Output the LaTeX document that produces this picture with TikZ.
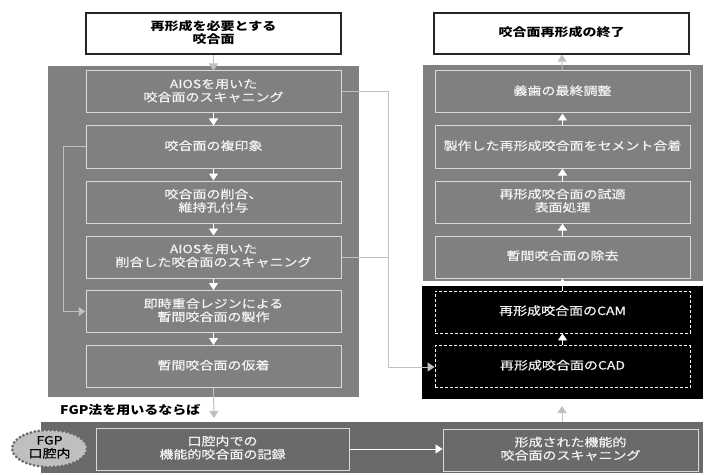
\documentclass[tikz,border=0pt]{standalone}
\usepackage{fontspec}
\setmainfont{Noto Sans CJK JP}
\newfontfamily\medfont[FakeBold=0.6]{Noto Sans CJK JP}
\usetikzlibrary{arrows.meta,shapes.geometric}
\definecolor{panelgray}{HTML}{808080}
\definecolor{bottomgray}{HTML}{6A6A6A}
\definecolor{boxline}{HTML}{D9D9D9}
\definecolor{conn}{HTML}{C0C0C0}
\definecolor{txtw}{HTML}{F2F2F2}
\newcommand{\sq}[1]{\scalebox{1}[0.82]{\begin{tabular}{@{}c@{}}#1\end{tabular}}}
\tikzset{
  stepbox/.style={draw=boxline, line width=1pt, minimum width=255pt, minimum height=42pt, inner sep=0pt, text=txtw, font=\medfont\fontsize{14}{14.5}\selectfont},
  dashbox/.style={draw=white, line width=0.8pt, dash pattern=on 3pt off 2pt, minimum width=255pt, minimum height=42pt, inner sep=0pt, text=txtw, font=\medfont\fontsize{14}{14.5}\selectfont},
  topbox/.style={draw=black!85, line width=1.2pt, fill=white, minimum width=255pt, minimum height=41pt, inner sep=0pt, font=\bfseries\fontsize{14}{14}\selectfont},
  warrow/.style={draw=white, line width=0.8pt, -{Triangle[width=9pt,length=7pt]}},
  garrow/.style={draw=conn, line width=1pt, -{Triangle[width=9pt,length=7pt]}},
  gline/.style={draw=conn, line width=1pt},
}
\begin{document}
\begin{tikzpicture}[x=1pt,y=-1pt]
\useasboundingbox (0,0) rectangle (703,473);
% panels
\fill[panelgray] (48,66) rectangle (359,397);
\fill[panelgray] (423,65) rectangle (703,281);
\fill[black] (422,286) rectangle (703,399);
\fill[bottomgray] (41,422) rectangle (703,473);

% top boxes
\node[topbox] (start) at (213.5,33.5) {\sq{再形成を必要とする\\咬合面}};
\node[topbox] (end) at (561.5,33.5) {\sq{咬合面再形成の終了}};

% left column
\node[stepbox] (l1) at (213.5,92) {\sq{AIOSを用いた\\咬合面のスキャニング}};
\node[stepbox] (l2) at (213.5,147) {\sq{咬合面の複印象}};
\node[stepbox] (l3) at (213.5,202) {\sq{咬合面の削合、\\維持孔付与}};
\node[stepbox] (l4) at (213.5,257) {\sq{AIOSを用いた\\削合した咬合面のスキャニング}};
\node[stepbox] (l5) at (213.5,311.5) {\sq{即時重合レジンによる\\暫間咬合面の製作}};
\node[stepbox] (l6) at (213.5,366.5) {\sq{暫間咬合面の仮着}};

% right column
\node[stepbox] (r1) at (562.5,92) {\sq{義歯の最終調整}};
\node[stepbox] (r2) at (562.5,147) {\sq{製作した再形成咬合面をセメント合着}};
\node[stepbox] (r3) at (562.5,202) {\sq{再形成咬合面の試適\\表面処理}};
\node[stepbox] (r4) at (562.5,257) {\sq{暫間咬合面の除去}};
\node[dashbox] (cam) at (562.5,312) {\sq{再形成咬合面のCAM}};
\node[dashbox] (cad) at (562.5,366.5) {\sq{再形成咬合面のCAD}};

% bottom row
\node[stepbox, minimum width=253pt] (rec) at (222.5,449) {\sq{口腔内での\\機能的咬合面の記録}};
\node[stepbox] (scan) at (570.5,450) {\sq{形成された機能的\\咬合面のスキャニング}};
\node[ellipse, fill=black!25, draw=black!60, line width=3pt, dash pattern=on 0pt off 4pt, line cap=round, minimum width=75pt, minimum height=37pt, inner sep=0pt, font=\medfont\fontsize{14}{14}\selectfont] (fgp) at (49.5,448.5) {\sq{FGP\\口腔内}};

\node[anchor=west, font=\bfseries\fontsize{14}{15}\selectfont, inner sep=0pt] (cond) at (60,410) {\scalebox{1}[0.85]{FGP法を用いるならば}};

% coordinates
\coordinate (fgptip) at (214,418);
\coordinate (scantop) at (562,422);
\coordinate (cadbot) at (562,399);
\coordinate (ra) at (388,92);
\coordinate (rb) at (388,257);
\coordinate (rc) at (388,367);
\coordinate (la) at (63,147);
\coordinate (lb) at (63,311.5);

% arrows left column
\draw[warrow] (l1) -- (l2);
\draw[warrow] (l2) -- (l3);
\draw[warrow] (l3) -- (l4);
\draw[warrow] (l4) -- (l5);
\draw[warrow] (l5) -- (l6);
\draw[garrow] (start) -- (l1);
\draw[garrow] (l6.south) -- (fgptip);

% right column arrows
\draw[warrow] (r4) -- (r3);
\draw[warrow] (r3) -- (r2);
\draw[warrow] (r2) -- (r1);
\draw[warrow] (cam) -- (r4);
\draw[warrow] (cad) -- (cam);
\draw[garrow] (r1) -- (end);

% feedback lines
\draw[gline] (l2.west) -- (la) -- (lb);
\draw[garrow] (lb) -- (l5.west);
\draw[gline] (l1.east) -- (ra) -- (rc);
\draw[gline] (l4.east) -- (rb);
\draw[garrow] (rc) -- (cad.west |- rc);

% bottom
\draw[warrow] (rec.east) -- (scan.west |- rec.east);
\draw[garrow] (scantop) -- ([yshift=-7pt]cadbot);
\end{tikzpicture}
\end{document}
